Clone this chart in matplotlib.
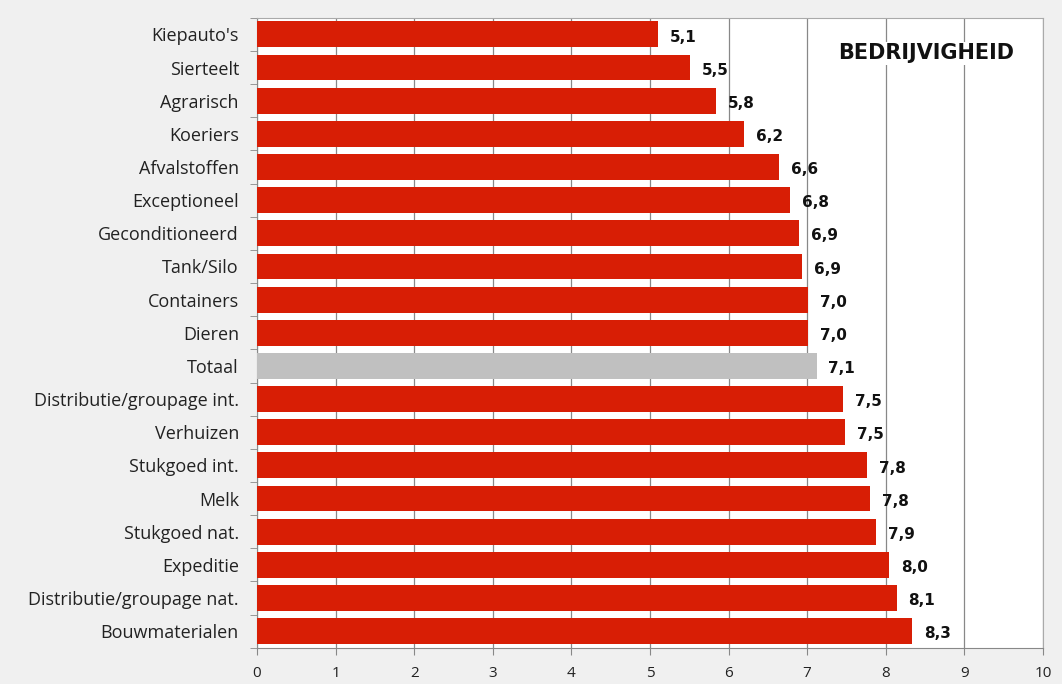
import numpy as np
import matplotlib
matplotlib.use("Agg")
import matplotlib.pyplot as plt

matplotlib.rcParams.update({'font.family': ['Open Sans', 'DejaVu Sans']})

categories = ["Kiepauto's", "Sierteelt", "Agrarisch", "Koeriers", "Afvalstoffen",
              "Exceptioneel", "Geconditioneerd", "Tank/Silo", "Containers", "Dieren",
              "Totaal", "Distributie/groupage int.", "Verhuizen", "Stukgoed int.", "Melk",
              "Stukgoed nat.", "Expeditie", "Distributie/groupage nat.", "Bouwmaterialen"]
values = [5.10, 5.51, 5.84, 6.20, 6.64, 6.78, 6.90, 6.94, 7.01, 7.01,
          7.12, 7.46, 7.48, 7.76, 7.80, 7.88, 8.04, 8.14, 8.34]
highlight = "Totaal"

fig = plt.figure(figsize=(10.62, 6.84), dpi=100, facecolor='#f0f0f0')
ax = fig.add_axes([0.242, 0.053, 0.740, 0.921])
ax.set_facecolor('white')

y = np.arange(len(categories))
colors = ['#c0c0c0' if c == highlight else '#d81e05' for c in categories]
ax.barh(y, values, height=0.78, color=colors, zorder=3)

for yi, v in zip(y, values):
    ax.text(v + 0.15, yi + 0.08, f"{v:.1f}".replace('.', ','), va='center', ha='left',
            fontsize=11, fontweight='bold', color='#111111', family='DejaVu Sans', zorder=4)

ax.set_ylim(len(categories) - 0.5, -0.5)
ax.set_xlim(0, 10)
ax.set_xticks(range(0, 11))
ax.set_yticks(y)
ax.set_yticklabels(categories, fontsize=13, color='#222222')
ax.set_yticks(np.arange(-0.5, len(categories), 1), minor=True)
ax.tick_params(axis='y', which='major', length=0, pad=13)
ax.tick_params(axis='y', which='minor', length=5, color='#888888')
ax.tick_params(axis='x', length=5, color='#888888', labelsize=11, pad=8, labelcolor='#222222')

ax.grid(axis='x', color='#888888', linewidth=0.9, zorder=0)
for s in ['top', 'right']:
    ax.spines[s].set_color('#aaaaaa')
for s in ['left', 'bottom']:
    ax.spines[s].set_color('#888888')

ax.text(0.964, 0.944, "BEDRIJVIGHEID", transform=ax.transAxes, ha='right', va='center',
        fontsize=15, fontweight='bold', color='#111111', family='DejaVu Sans', zorder=5,
        bbox=dict(facecolor='white', edgecolor='none', pad=1))

fig.savefig("out.png", dpi=100, facecolor=fig.get_facecolor())
